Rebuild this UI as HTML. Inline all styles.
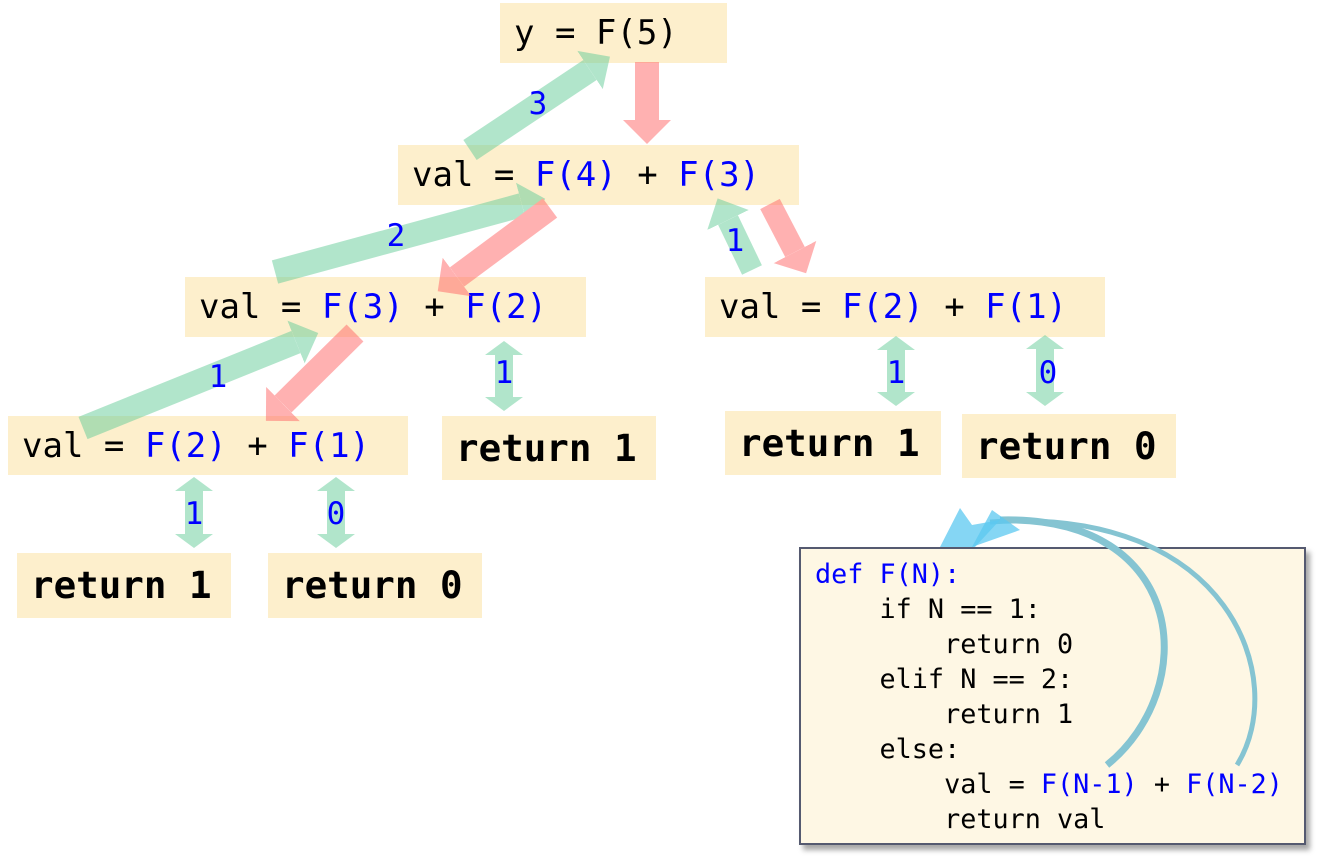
<!DOCTYPE html>
<html><head><meta charset="utf-8"><style>
body{margin:0;width:1320px;height:865px;background:#fff;position:relative;overflow:hidden;font-family:"DejaVu Sans Mono","Liberation Mono",monospace}
.b{position:absolute;background:#fdefcc;font-size:34px;line-height:60px;padding-left:14px;box-sizing:border-box;white-space:pre;color:#000}
.r{font-weight:bold;font-size:37.5px;line-height:64px}
.f{color:#0000ff}
.code{position:absolute;left:799px;top:547px;width:507px;height:298px;background:#fef7e4;border:2px solid #555a70;box-sizing:border-box;box-shadow:4px 5px 5px rgba(0,0,0,.35);font-size:26.8px;line-height:35px;padding:8px 0 0 14px;white-space:pre}
svg{position:absolute;left:0;top:0}
.n{font-family:"DejaVu Sans Mono",monospace;font-size:31px;fill:#0000ff;text-anchor:middle}
</style></head><body>
<div class="b" style="left:500px;top:3px;width:227px;height:60px">y = F(5)</div>
<div class="b" style="left:398px;top:145px;width:401px;height:60px">val = <span class="f">F(4)</span> + <span class="f">F(3)</span></div>
<div class="b" style="left:185px;top:277px;width:401px;height:60px">val = <span class="f">F(3)</span> + <span class="f">F(2)</span></div>
<div class="b" style="left:705px;top:277px;width:400px;height:60px">val = <span class="f">F(2)</span> + <span class="f">F(1)</span></div>
<div class="b" style="left:8px;top:416px;width:400px;height:59px">val = <span class="f">F(2)</span> + <span class="f">F(1)</span></div>
<div class="b r" style="left:442px;top:416px;width:214px;height:64px">return 1</div>
<div class="b r" style="left:725px;top:411px;width:216px;height:64px">return 1</div>
<div class="b r" style="left:962px;top:414px;width:214px;height:64px">return 0</div>
<div class="b r" style="left:17px;top:553px;width:214px;height:65px">return 1</div>
<div class="b r" style="left:268px;top:553px;width:214px;height:65px">return 0</div>
<div class="code"><span class="f">def F(N):</span>
    if N == 1:
        return 0
    elif N == 2:
        return 1
    else:
        val = <span class="f">F(N-1)</span> + <span class="f">F(N-2)</span>
        return val</div>
<svg width="1320" height="865">
<defs>
<marker id="g" markerUnits="userSpaceOnUse" markerWidth="50" markerHeight="50" refX="0" refY="25" orient="auto-start-reverse"><path d="M0,2 L24,25 L0,48z" fill="#66cc99"/></marker>
<marker id="rd" markerUnits="userSpaceOnUse" markerWidth="50" markerHeight="50" refX="0" refY="25" orient="auto"><path d="M0,1 L24,25 L0,49z" fill="#ff6666"/></marker>
<marker id="s" markerUnits="userSpaceOnUse" markerWidth="40" markerHeight="40" refX="0" refY="20" orient="auto-start-reverse"><path d="M0,1 L14,20 L0,39z" fill="#66cc99"/></marker>
</defs>
<g opacity=".5" stroke-width="24" fill="none">
<line x1="470" y1="150" x2="590" y2="70" stroke="#66cc99" marker-end="url(#g)"/>
<line x1="647" y1="62" x2="647" y2="120" stroke="#ff6666" stroke-width="24" marker-end="url(#rd)"/>
<line x1="275" y1="272" x2="522" y2="205" stroke="#66cc99" marker-end="url(#g)"/>
<line x1="550" y1="208" x2="457" y2="277" stroke="#ff6666" marker-end="url(#rd)"/>
<line x1="752" y1="270" x2="728" y2="220" stroke="#66cc99" stroke-width="22" marker-end="url(#g)"/>
<line x1="770" y1="204" x2="795" y2="252" stroke="#ff6666" stroke-width="22" marker-end="url(#rd)"/>
<line x1="83" y1="428" x2="296" y2="342" stroke="#66cc99" marker-end="url(#g)"/>
<line x1="355" y1="333" x2="283" y2="404" stroke="#ff6666" marker-end="url(#rd)"/>
<line x1="504" y1="355" x2="504" y2="397" stroke="#66cc99" stroke-width="18" marker-start="url(#s)" marker-end="url(#s)"/>
<line x1="896" y1="350" x2="896" y2="392" stroke="#66cc99" stroke-width="18" marker-start="url(#s)" marker-end="url(#s)"/>
<line x1="1045" y1="349" x2="1045" y2="392" stroke="#66cc99" stroke-width="18" marker-start="url(#s)" marker-end="url(#s)"/>
<line x1="194" y1="491" x2="194" y2="534" stroke="#66cc99" stroke-width="18" marker-start="url(#s)" marker-end="url(#s)"/>
<line x1="336" y1="491" x2="336" y2="534" stroke="#66cc99" stroke-width="18" marker-start="url(#s)" marker-end="url(#s)"/>
</g>
<text class="n" x="538" y="114">3</text>
<text class="n" x="396" y="246">2</text>
<text class="n" x="735" y="251">1</text>
<text class="n" x="218" y="387">1</text>
<text class="n" x="504" y="383">1</text>
<text class="n" x="896" y="383">1</text>
<text class="n" x="1048" y="383">0</text>
<text class="n" x="194" y="524">1</text>
<text class="n" x="336" y="524">0</text>
<path d="M1107,765 C1200,690 1190,515 1000,520" stroke="#85c4d2" stroke-width="7" fill="none"/>
<path d="M1237,765 C1290,680 1230,505 990,522" stroke="#85c4d2" stroke-width="5" fill="none"/>
<path d="M940,547 L960,508 L972,525 L1000,520 L975,547z" fill="#5cc8f0" opacity=".75"/>
<path d="M972,547 L992,510 L1020,530z" fill="#5cc8f0" opacity=".75"/>
</svg>
</body></html>
